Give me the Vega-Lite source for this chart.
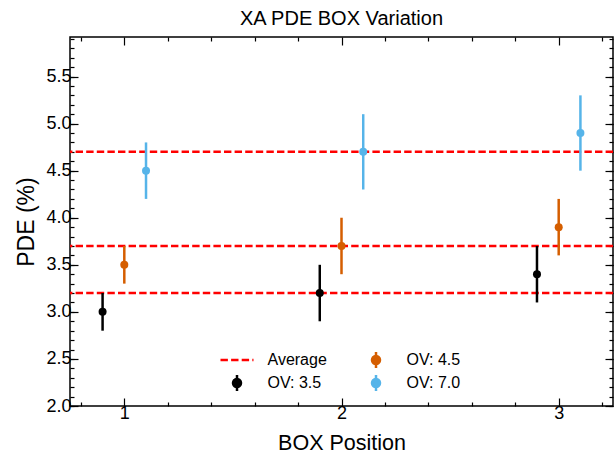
{
  "$schema": "https://vega.github.io/schema/vega-lite/v6.json",
  "width": 543,
  "height": 369,
  "autosize": "none",
  "padding": {"left": 70, "top": 37, "right": 3, "bottom": 49},
  "background": "white",
  "title": {"text": "XA PDE BOX Variation", "fontSize": 20, "font": "Liberation Sans", "fontWeight": "normal", "color": "black", "offset": 7},
  "config": {
    "view": {"stroke": "black", "strokeWidth": 1.5},
    "font": "Liberation Sans",
    "axis": {"grid": false, "domain": false, "tickColor": "black", "labelColor": "black", "titleColor": "black", "labelFont": "Liberation Sans", "titleFont": "Liberation Sans", "labelFontSize": 18, "titleFontWeight": "normal", "tickWidth": 1.2}
  },
  "datasets": {
    "pts": [
      {"series": "OV: 3.5", "x": 0.9, "y": 3.0, "lo": 2.8, "hi": 3.2},
      {"series": "OV: 3.5", "x": 1.9, "y": 3.2, "lo": 2.9, "hi": 3.5},
      {"series": "OV: 3.5", "x": 2.9, "y": 3.4, "lo": 3.1, "hi": 3.7},
      {"series": "OV: 4.5", "x": 1.0, "y": 3.5, "lo": 3.3, "hi": 3.7},
      {"series": "OV: 4.5", "x": 2.0, "y": 3.7, "lo": 3.4, "hi": 4.0},
      {"series": "OV: 4.5", "x": 3.0, "y": 3.9, "lo": 3.6, "hi": 4.2},
      {"series": "OV: 7.0", "x": 1.1, "y": 4.5, "lo": 4.2, "hi": 4.8},
      {"series": "OV: 7.0", "x": 2.1, "y": 4.7, "lo": 4.3, "hi": 5.1},
      {"series": "OV: 7.0", "x": 3.1, "y": 4.9, "lo": 4.5, "hi": 5.3}
    ],
    "avg": [
      {"series": "Average", "y": 3.2},
      {"series": "Average", "y": 3.7},
      {"series": "Average", "y": 4.7}
    ]
  },
  "resolve": {"axis": {"x": "independent", "y": "independent"}},
  "layer": [
    {
      "data": {"name": "avg"},
      "mark": {"type": "rule", "strokeWidth": 2.5, "strokeDash": [7.4, 3.2]},
      "encoding": {
        "y": {"field": "y", "type": "quantitative", "scale": {"domain": [2.0, 5.92], "nice": false, "zero": false},
          "axis": {"orient": "left", "values": [2.0, 2.5, 3.0, 3.5, 4.0, 4.5, 5.0, 5.5], "format": ".1f", "tickSize": -8, "labelPadding": 7, "title": "PDE (%)", "titleFontSize": 23, "titlePadding": 7}},
        "color": {"field": "series", "type": "nominal",
          "scale": {"domain": ["Average", "OV: 3.5", "OV: 4.5", "OV: 7.0"], "range": ["#ff0000", "#000000", "#d55e00", "#56b4e9"]},
          "legend": {"orient": "none", "legendX": 149, "legendY": 313, "columns": 2, "columnPadding": 31, "rowPadding": 3, "clipHeight": 20, "title": null, "labelFontSize": 16, "labelColor": "black", "labelFont": "Liberation Sans", "labelOffset": 12.5,
            "encode": {"symbols": {"update": {
              "shape": {"signal": "datum.value === 'Average' ? 'M-1,0L1,0' : 'M-0.24,0A0.24,0.24 0 1,1 0.24,0A0.24,0.24 0 1,1 -0.24,0ZM0,-0.48L0,0.48'"},
              "size": {"value": 1089},
              "strokeDash": {"signal": "datum.value === 'Average' ? [7.4, 3.2] : [1, 0]"},
              "stroke": {"scale": "color", "field": "value"},
              "fill": {"signal": "datum.value === 'Average' ? 'transparent' : scale('color', datum.value)"},
              "fillOpacity": {"value": 1},
              "strokeWidth": {"value": 2.5},
              "opacity": {"value": 1}
            }}}}}
      }
    },
    {
      "data": {"name": "pts"},
      "mark": {"type": "rule", "strokeWidth": 2.5},
      "encoding": {
        "x": {"field": "x", "type": "quantitative", "scale": {"domain": [0.75, 3.25], "nice": false, "zero": false},
          "axis": {"orient": "bottom", "values": [1, 2, 3], "format": "d", "tickSize": -8, "labelPadding": 6, "title": "BOX Position", "titleFontSize": 21.5, "titlePadding": 10}},
        "y": {"field": "lo", "type": "quantitative",
          "axis": {"orient": "left", "values": [2.0, 2.1, 2.2, 2.3, 2.4, 2.5, 2.6, 2.7, 2.8, 2.9, 3.0, 3.1, 3.2, 3.3, 3.4, 3.5, 3.6, 3.7, 3.8, 3.9, 4.0, 4.1, 4.2, 4.3, 4.4, 4.5, 4.6, 4.7, 4.8, 4.9, 5.0, 5.1, 5.2, 5.3, 5.4, 5.5, 5.6, 5.7, 5.8, 5.9], "tickSize": -4, "labels": false, "title": null}},
        "y2": {"field": "hi"},
        "color": {"field": "series", "type": "nominal"}
      }
    },
    {
      "data": {"name": "pts"},
      "mark": {"type": "point", "filled": true, "size": 64, "opacity": 1},
      "encoding": {
        "x": {"field": "x", "type": "quantitative",
          "axis": {"orient": "bottom", "values": [0.8, 1.2, 1.4, 1.6, 1.8, 2.2, 2.4, 2.6, 2.8, 3.2], "tickSize": -4, "labels": false, "title": null}},
        "y": {"field": "y", "type": "quantitative",
          "axis": {"orient": "right", "values": [2.0, 2.5, 3.0, 3.5, 4.0, 4.5, 5.0, 5.5], "tickSize": -8, "labels": false, "title": null}},
        "color": {"field": "series", "type": "nominal"}
      }
    },
    {
      "data": {"name": "pts"},
      "mark": {"type": "point", "opacity": 0},
      "encoding": {
        "x": {"field": "x", "type": "quantitative",
          "axis": {"orient": "top", "values": [1, 2, 3], "tickSize": -8, "labels": false, "title": null}},
        "y": {"field": "y", "type": "quantitative",
          "axis": {"orient": "right", "values": [2.0, 2.1, 2.2, 2.3, 2.4, 2.5, 2.6, 2.7, 2.8, 2.9, 3.0, 3.1, 3.2, 3.3, 3.4, 3.5, 3.6, 3.7, 3.8, 3.9, 4.0, 4.1, 4.2, 4.3, 4.4, 4.5, 4.6, 4.7, 4.8, 4.9, 5.0, 5.1, 5.2, 5.3, 5.4, 5.5, 5.6, 5.7, 5.8, 5.9], "tickSize": -4, "labels": false, "title": null}}
      }
    },
    {
      "data": {"name": "pts"},
      "mark": {"type": "point", "opacity": 0},
      "encoding": {
        "x": {"field": "x", "type": "quantitative",
          "axis": {"orient": "top", "values": [0.8, 1.2, 1.4, 1.6, 1.8, 2.2, 2.4, 2.6, 2.8, 3.2], "tickSize": -4, "labels": false, "title": null}},
        "y": {"field": "y", "type": "quantitative", "axis": null}
      }
    }
  ]
}
